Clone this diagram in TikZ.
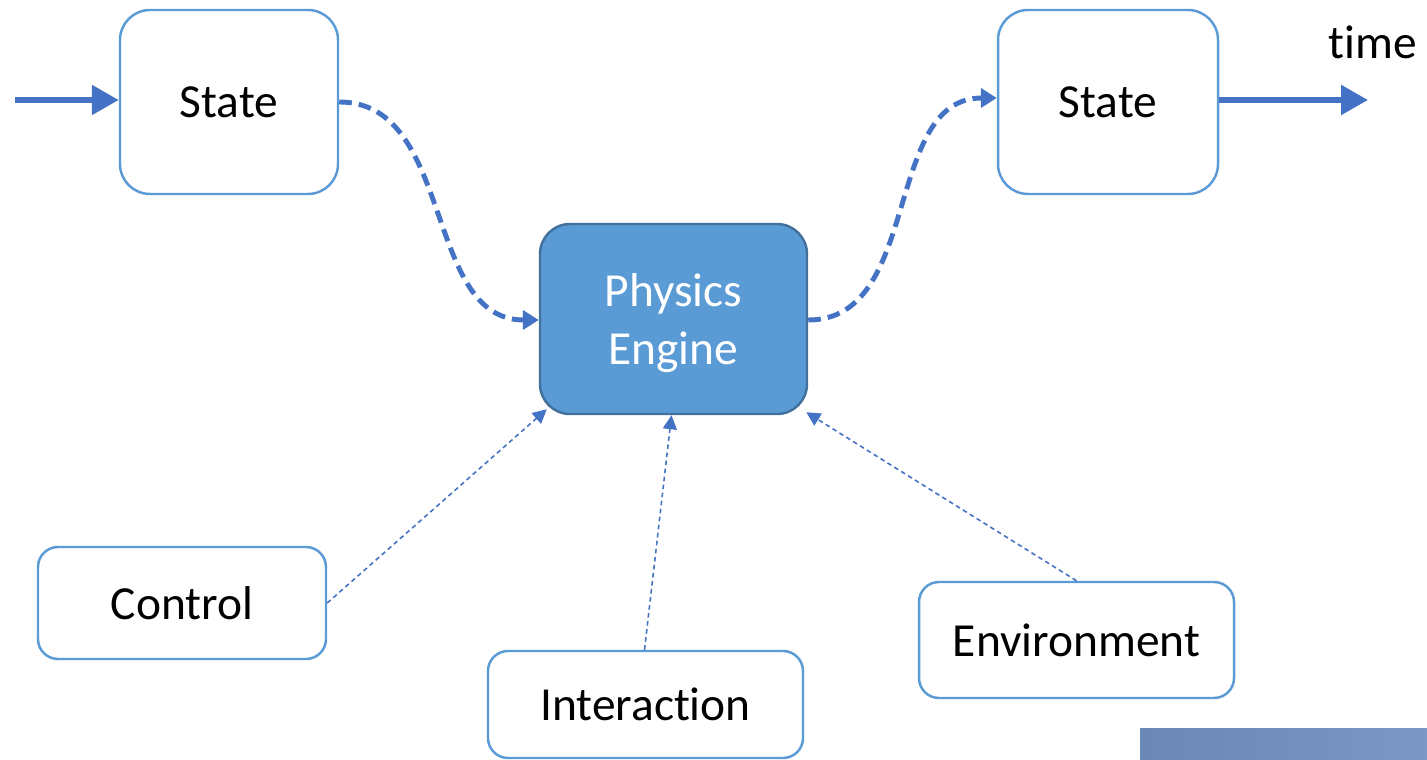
\documentclass[tikz,border=0pt]{standalone}
\usepackage{fontspec}
\setmainfont{Carlito}[Ligatures={NoCommon,NoContextual},RawFeature=-calt]
\usetikzlibrary{arrows.meta}

\definecolor{boxline}{HTML}{5B9BD5}
\definecolor{arrowblue}{HTML}{4472C4}
\definecolor{enginefill}{HTML}{5B9BD5}
\definecolor{engineline}{HTML}{41719C}
\definecolor{barleft}{HTML}{6A87B6}
\definecolor{barright}{HTML}{7A97C6}

\begin{document}
\begin{tikzpicture}[
  every node/.style={font=\fontsize{13.5}{16.2}\selectfont},
  statebox/.style={draw=boxline, line width=0.7pt, rounded corners=0.3cm, fill=white},
  thinarrow/.style={draw=arrowblue, line width=0.45pt, dash pattern=on 1.3pt off 1pt, -{Triangle[length=0.14cm,width=0.14cm]}},
  thickarrow/.style={draw=arrowblue, line width=1.6pt, -{Triangle[length=0.27cm,width=0.29cm]}},
  flowarrow/.style={draw=arrowblue, line width=1.4pt, dash pattern=on 3.6pt off 2pt, -{Triangle[length=0.16cm,width=0.19cm]}}
]
\useasboundingbox (0,0) rectangle (14.27,-7.60);
\node [statebox, minimum width=2.18cm, minimum height=1.84cm] (stateA) at (2.29,-1.02) {State};
\node [statebox, minimum width=2.20cm, minimum height=1.84cm] (stateB) at (11.08,-1.02) {State};
\node [draw=engineline, fill=enginefill, line width=0.7pt, rounded corners=0.3cm,
       minimum width=2.67cm, minimum height=1.90cm] (engine) at (6.735,-3.19) {};
\node [text=white, align=center, yshift=-0.04cm] (enginetext) at (engine.center) {Physics\\[0.5pt]Engine};
\node [statebox, rounded corners=0.2cm, minimum width=2.88cm, minimum height=1.12cm] (control) at (1.82,-6.03) {Control};
\node [statebox, rounded corners=0.2cm, minimum width=3.15cm, minimum height=1.07cm] (interaction) at (6.455,-7.045) {Interaction};
\node [statebox, rounded corners=0.2cm, minimum width=3.15cm, minimum height=1.16cm] (environment) at (10.765,-6.40) {Environment};
\node (time) at (13.73,-0.42) {time};
\coordinate (start) at (0.15,-1.00);
\coordinate (stop) at (13.68,-1.00);
% time axis
\draw [thickarrow] (start) -- ([yshift=0.02cm]stateA.west);
\draw [thickarrow] ([yshift=0.02cm]stateB.east) -- (stop);
% state flow
\draw [flowarrow] (stateA.east) to[out=0,in=180] ([yshift=-0.01cm]engine.west);
\draw [flowarrow] ([yshift=-0.01cm]engine.east) to[out=0,in=180] ([yshift=0.04cm]stateB.west);
% inputs
\draw [thinarrow] (control.east) -- ([shift={(0.08,0.06)}]engine.south west);
\draw [thinarrow] ([xshift=-0.01cm]interaction.north) -- ([xshift=-0.02cm]engine.south);
\draw [thinarrow] (environment.north) -- ([shift={(-0.02,0.03)}]engine.south east);
% cut-off bar
\shade [left color=barleft, right color=barright] (11.40,-7.28) rectangle (14.27,-7.60);
\end{tikzpicture}
\end{document}
